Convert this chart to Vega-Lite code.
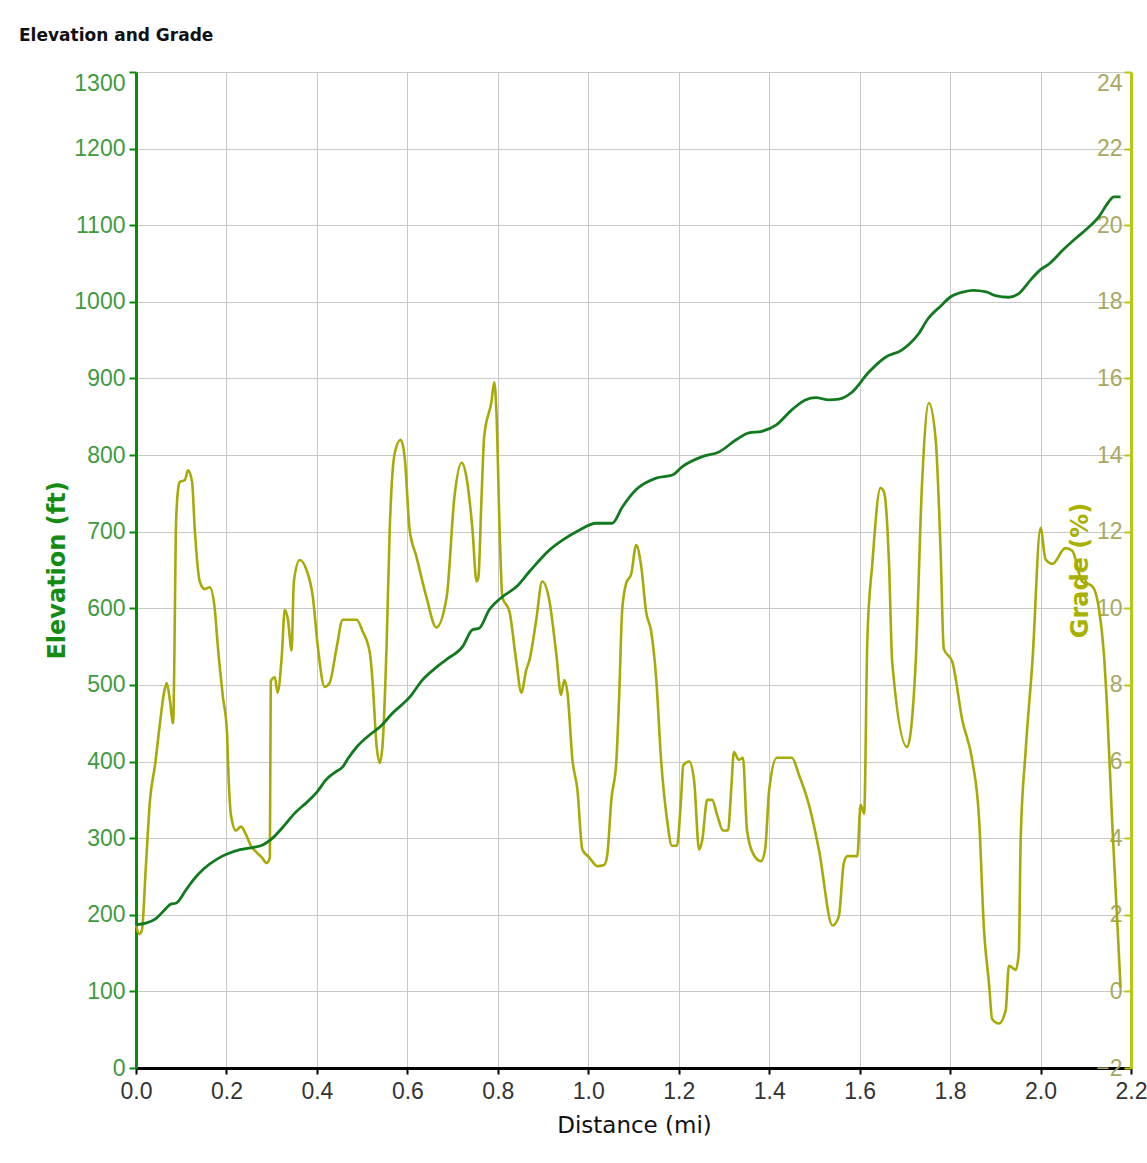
{
  "$schema": "https://vega.github.io/schema/vega-lite/v6.json",
  "autosize": {"type": "none"},
  "padding": {"left": 136, "top": 72, "right": 16, "bottom": 95},
  "width": 995,
  "height": 996,
  "background": "white",
  "title": {"text": "Elevation and Grade", "anchor": "start", "frame": "group", "dx": -117, "offset": 26, "font": "DejaVu Sans", "fontSize": 17, "fontWeight": "bold", "color": "#111111"},
  "config": {"view": {"stroke": null}},
  "datasets": {
    "elev": [
      {"d": 0.0, "elev": 187}, {"d": 0.022, "elev": 189}, {"d": 0.044, "elev": 195}, {"d": 0.066, "elev": 208},
      {"d": 0.077, "elev": 214}, {"d": 0.088, "elev": 215}, {"d": 0.11, "elev": 232}, {"d": 0.126, "elev": 245},
      {"d": 0.15, "elev": 260}, {"d": 0.18, "elev": 273}, {"d": 0.2, "elev": 279}, {"d": 0.23, "elev": 285},
      {"d": 0.26, "elev": 288}, {"d": 0.28, "elev": 291}, {"d": 0.3, "elev": 299}, {"d": 0.33, "elev": 318},
      {"d": 0.35, "elev": 332}, {"d": 0.38, "elev": 348}, {"d": 0.4, "elev": 360}, {"d": 0.42, "elev": 376},
      {"d": 0.44, "elev": 386}, {"d": 0.457, "elev": 393}, {"d": 0.47, "elev": 405}, {"d": 0.488, "elev": 419},
      {"d": 0.517, "elev": 435}, {"d": 0.539, "elev": 445}, {"d": 0.567, "elev": 463}, {"d": 0.605, "elev": 484},
      {"d": 0.634, "elev": 507}, {"d": 0.66, "elev": 521}, {"d": 0.686, "elev": 533}, {"d": 0.722, "elev": 550},
      {"d": 0.744, "elev": 572}, {"d": 0.759, "elev": 574}, {"d": 0.781, "elev": 598}, {"d": 0.81, "elev": 615},
      {"d": 0.841, "elev": 628}, {"d": 0.87, "elev": 648}, {"d": 0.914, "elev": 676}, {"d": 0.943, "elev": 689},
      {"d": 0.98, "elev": 702}, {"d": 1.017, "elev": 711}, {"d": 1.053, "elev": 711}, {"d": 1.075, "elev": 732},
      {"d": 1.106, "elev": 755}, {"d": 1.15, "elev": 770}, {"d": 1.186, "elev": 774}, {"d": 1.208, "elev": 785},
      {"d": 1.252, "elev": 798}, {"d": 1.289, "elev": 804}, {"d": 1.327, "elev": 820}, {"d": 1.355, "elev": 829},
      {"d": 1.384, "elev": 831}, {"d": 1.415, "elev": 839}, {"d": 1.45, "elev": 859}, {"d": 1.48, "elev": 872},
      {"d": 1.503, "elev": 875}, {"d": 1.532, "elev": 872}, {"d": 1.554, "elev": 873}, {"d": 1.583, "elev": 882},
      {"d": 1.62, "elev": 908}, {"d": 1.658, "elev": 928}, {"d": 1.693, "elev": 937}, {"d": 1.71, "elev": 945},
      {"d": 1.73, "elev": 958}, {"d": 1.75, "elev": 977}, {"d": 1.78, "elev": 995}, {"d": 1.8, "elev": 1006},
      {"d": 1.83, "elev": 1013}, {"d": 1.85, "elev": 1015}, {"d": 1.88, "elev": 1013}, {"d": 1.9, "elev": 1008},
      {"d": 1.93, "elev": 1006}, {"d": 1.95, "elev": 1010}, {"d": 1.98, "elev": 1030}, {"d": 2.0, "elev": 1042},
      {"d": 2.02, "elev": 1050}, {"d": 2.05, "elev": 1068}, {"d": 2.08, "elev": 1084}, {"d": 2.1, "elev": 1094},
      {"d": 2.13, "elev": 1112}, {"d": 2.15, "elev": 1130}, {"d": 2.162, "elev": 1137}, {"d": 2.177, "elev": 1137}
    ],
    "grade": [
      {"d": 0.0, "grade": 1.73}, {"d": 0.007, "grade": 1.5}, {"d": 0.013, "grade": 1.6}, {"d": 0.022, "grade": 3.3},
      {"d": 0.031, "grade": 5.0}, {"d": 0.042, "grade": 5.9}, {"d": 0.053, "grade": 7.0}, {"d": 0.062, "grade": 7.8},
      {"d": 0.068, "grade": 8.05}, {"d": 0.075, "grade": 7.6}, {"d": 0.082, "grade": 7.0}, {"d": 0.086, "grade": 9.9},
      {"d": 0.088, "grade": 12.0}, {"d": 0.093, "grade": 13.1}, {"d": 0.097, "grade": 13.3}, {"d": 0.108, "grade": 13.35},
      {"d": 0.115, "grade": 13.6}, {"d": 0.124, "grade": 13.3}, {"d": 0.13, "grade": 12.05}, {"d": 0.141, "grade": 10.7},
      {"d": 0.152, "grade": 10.5}, {"d": 0.163, "grade": 10.55}, {"d": 0.174, "grade": 10.0}, {"d": 0.181, "grade": 9.0},
      {"d": 0.192, "grade": 7.7}, {"d": 0.201, "grade": 6.8}, {"d": 0.205, "grade": 5.5}, {"d": 0.21, "grade": 4.6},
      {"d": 0.221, "grade": 4.2}, {"d": 0.232, "grade": 4.3}, {"d": 0.243, "grade": 4.1}, {"d": 0.254, "grade": 3.8},
      {"d": 0.265, "grade": 3.65}, {"d": 0.278, "grade": 3.5}, {"d": 0.289, "grade": 3.35}, {"d": 0.296, "grade": 3.5},
      {"d": 0.298, "grade": 8.1}, {"d": 0.307, "grade": 8.2}, {"d": 0.313, "grade": 7.8}, {"d": 0.322, "grade": 8.7},
      {"d": 0.329, "grade": 9.96}, {"d": 0.336, "grade": 9.7}, {"d": 0.344, "grade": 8.9}, {"d": 0.349, "grade": 10.7},
      {"d": 0.362, "grade": 11.26}, {"d": 0.377, "grade": 11.0}, {"d": 0.391, "grade": 10.3}, {"d": 0.402, "grade": 9.0},
      {"d": 0.417, "grade": 7.95}, {"d": 0.428, "grade": 8.05}, {"d": 0.444, "grade": 9.0}, {"d": 0.457, "grade": 9.7},
      {"d": 0.488, "grade": 9.7}, {"d": 0.501, "grade": 9.4}, {"d": 0.517, "grade": 8.84}, {"d": 0.523, "grade": 8.1},
      {"d": 0.532, "grade": 6.4}, {"d": 0.539, "grade": 5.96}, {"d": 0.545, "grade": 6.4}, {"d": 0.554, "grade": 9.0},
      {"d": 0.561, "grade": 12.05}, {"d": 0.572, "grade": 14.05}, {"d": 0.585, "grade": 14.4}, {"d": 0.594, "grade": 13.95},
      {"d": 0.605, "grade": 12.05}, {"d": 0.62, "grade": 11.35}, {"d": 0.642, "grade": 10.3}, {"d": 0.664, "grade": 9.5},
      {"d": 0.687, "grade": 10.3}, {"d": 0.704, "grade": 12.9}, {"d": 0.72, "grade": 13.8}, {"d": 0.731, "grade": 13.4},
      {"d": 0.744, "grade": 12.05}, {"d": 0.753, "grade": 10.7}, {"d": 0.757, "grade": 10.8}, {"d": 0.764, "grade": 12.9},
      {"d": 0.77, "grade": 14.5}, {"d": 0.786, "grade": 15.4}, {"d": 0.792, "grade": 15.9}, {"d": 0.797, "grade": 15.1},
      {"d": 0.804, "grade": 12.05}, {"d": 0.81, "grade": 10.3}, {"d": 0.826, "grade": 9.9}, {"d": 0.841, "grade": 8.6},
      {"d": 0.852, "grade": 7.8}, {"d": 0.863, "grade": 8.4}, {"d": 0.87, "grade": 8.65}, {"d": 0.885, "grade": 9.7},
      {"d": 0.898, "grade": 10.7}, {"d": 0.914, "grade": 10.2}, {"d": 0.929, "grade": 8.84}, {"d": 0.94, "grade": 7.74},
      {"d": 0.947, "grade": 8.13}, {"d": 0.954, "grade": 7.8}, {"d": 0.965, "grade": 6.04}, {"d": 0.976, "grade": 5.26},
      {"d": 0.987, "grade": 3.7}, {"d": 1.002, "grade": 3.5}, {"d": 1.02, "grade": 3.27}, {"d": 1.035, "grade": 3.3},
      {"d": 1.042, "grade": 3.56}, {"d": 1.051, "grade": 5.0}, {"d": 1.062, "grade": 6.0}, {"d": 1.068, "grade": 7.6},
      {"d": 1.075, "grade": 9.96}, {"d": 1.084, "grade": 10.66}, {"d": 1.095, "grade": 10.9}, {"d": 1.106, "grade": 11.65},
      {"d": 1.117, "grade": 11.1}, {"d": 1.128, "grade": 9.9}, {"d": 1.139, "grade": 9.4}, {"d": 1.15, "grade": 8.2},
      {"d": 1.161, "grade": 6.04}, {"d": 1.174, "grade": 4.5}, {"d": 1.185, "grade": 3.8}, {"d": 1.196, "grade": 3.8},
      {"d": 1.205, "grade": 5.0}, {"d": 1.21, "grade": 5.9}, {"d": 1.223, "grade": 6.0}, {"d": 1.234, "grade": 5.5},
      {"d": 1.245, "grade": 3.7}, {"d": 1.252, "grade": 3.95}, {"d": 1.263, "grade": 5.0}, {"d": 1.274, "grade": 5.0},
      {"d": 1.285, "grade": 4.6}, {"d": 1.298, "grade": 4.2}, {"d": 1.309, "grade": 4.2}, {"d": 1.316, "grade": 5.26},
      {"d": 1.322, "grade": 6.25}, {"d": 1.333, "grade": 6.04}, {"d": 1.342, "grade": 6.1}, {"d": 1.351, "grade": 4.2},
      {"d": 1.366, "grade": 3.56}, {"d": 1.382, "grade": 3.4}, {"d": 1.391, "grade": 3.7}, {"d": 1.4, "grade": 5.26},
      {"d": 1.417, "grade": 6.1}, {"d": 1.45, "grade": 6.1}, {"d": 1.466, "grade": 5.65}, {"d": 1.488, "grade": 4.87},
      {"d": 1.51, "grade": 3.7}, {"d": 1.54, "grade": 1.72}, {"d": 1.554, "grade": 1.96}, {"d": 1.565, "grade": 3.35},
      {"d": 1.573, "grade": 3.53}, {"d": 1.595, "grade": 3.53}, {"d": 1.602, "grade": 4.87}, {"d": 1.61, "grade": 4.64},
      {"d": 1.617, "grade": 9.18}, {"d": 1.628, "grade": 11.16}, {"d": 1.646, "grade": 13.14}, {"d": 1.654, "grade": 13.03},
      {"d": 1.665, "grade": 11.16}, {"d": 1.672, "grade": 8.6}, {"d": 1.705, "grade": 6.38}, {"d": 1.724, "grade": 8.6},
      {"d": 1.738, "grade": 13.26}, {"d": 1.753, "grade": 15.36}, {"d": 1.768, "grade": 14.43}, {"d": 1.779, "grade": 11.5},
      {"d": 1.786, "grade": 8.95}, {"d": 1.805, "grade": 8.6}, {"d": 1.827, "grade": 7.08}, {"d": 1.849, "grade": 6.03},
      {"d": 1.864, "grade": 4.52}, {"d": 1.875, "grade": 1.6}, {"d": 1.886, "grade": 0.21}, {"d": 1.893, "grade": -0.72},
      {"d": 1.908, "grade": -0.84}, {"d": 1.923, "grade": -0.49}, {"d": 1.93, "grade": 0.67}, {"d": 1.945, "grade": 0.56},
      {"d": 1.952, "grade": 1.02}, {"d": 1.956, "grade": 3.94}, {"d": 1.967, "grade": 6.27}, {"d": 1.982, "grade": 8.6},
      {"d": 2.0, "grade": 12.1}, {"d": 2.011, "grade": 11.28}, {"d": 2.026, "grade": 11.16}, {"d": 2.055, "grade": 11.57},
      {"d": 2.07, "grade": 11.5}, {"d": 2.092, "grade": 10.7}, {"d": 2.114, "grade": 10.58}, {"d": 2.129, "grade": 10.0},
      {"d": 2.14, "grade": 8.83}, {"d": 2.147, "grade": 7.43}, {"d": 2.158, "grade": 4.52}, {"d": 2.169, "grade": 1.96},
      {"d": 2.177, "grade": 0.09}
    ]
  },
  "encoding": {
    "x": {
      "field": "d", "type": "quantitative",
      "scale": {"domain": [0, 2.2], "nice": false, "zero": false},
      "axis": {
        "title": "Distance (mi)", "values": [0, 0.2, 0.4, 0.6, 0.8, 1.0, 1.2, 1.4, 1.6, 1.8, 2.0, 2.2], "format": ".1f",
        "grid": true, "gridColor": "#c8c8c8", "gridWidth": 1,
        "domainColor": "#000000", "domainWidth": 3, "tickColor": "#000000", "tickSize": 6, "tickWidth": 2,
        "labelFont": "Liberation Sans", "labelFontSize": 23, "labelColor": "#333333", "labelPadding": 6, "labelFlush": false,
        "titleFont": "DejaVu Sans", "titleFontSize": 23, "titleFontWeight": "normal", "titleColor": "#111111",
        "titleX": 498, "titleY": 57, "titleBaseline": "middle", "titleAlign": "center"
      }
    }
  },
  "layer": [
    {
      "data": {"name": "grade"},
      "mark": {"type": "line", "color": "#a8aa08", "strokeWidth": 2.6, "interpolate": "monotone"},
      "encoding": {
        "y": {
          "field": "grade", "type": "quantitative",
          "scale": {"domain": [-2, 24], "nice": false, "zero": false},
          "axis": {
            "orient": "right", "title": "Grade (%)", "values": [-2, 0, 2, 4, 6, 8, 10, 12, 14, 16, 18, 20, 22, 24], "format": "d",
            "grid": false, "domainColor": "#b8c810", "domainWidth": 3, "tickColor": "#b8c810", "tickSize": -7, "tickWidth": 2,
            "labelFont": "Liberation Sans", "labelFontSize": 23, "labelColor": "#a8a860", "labelPadding": -2,
            "labelAlign": "right", "labelFlush": false,
            "labelBaseline": {"condition": {"test": "datum.value == 24", "value": "top"}, "value": "middle"},
            "titleFont": "DejaVu Sans", "titleFontSize": 24, "titleFontWeight": "bold", "titleColor": "#a8b000",
            "titleAngle": 270, "titleX": -51, "titleY": 498, "titleBaseline": "middle", "titleAlign": "center"
          }
        }
      }
    },
    {
      "data": {"name": "elev"},
      "mark": {"type": "line", "color": "#127a1e", "strokeWidth": 2.8, "interpolate": "monotone"},
      "encoding": {
        "y": {
          "field": "elev", "type": "quantitative",
          "scale": {"domain": [0, 1300], "nice": false, "zero": true},
          "axis": {
            "orient": "left", "title": "Elevation (ft)", "values": [0, 100, 200, 300, 400, 500, 600, 700, 800, 900, 1000, 1100, 1200, 1300], "format": "d",
            "grid": true, "gridColor": "#c8c8c8", "gridWidth": 1,
            "domainColor": "#0a8a0a", "domainWidth": 3, "tickColor": "#0a8a0a", "tickSize": 7, "tickWidth": 2,
            "labelFont": "Liberation Sans", "labelFontSize": 23, "labelColor": "#3f9a3f", "labelPadding": 4, "labelFlush": false,
            "labelBaseline": {"condition": {"test": "datum.value == 1300", "value": "top"}, "value": "middle"},
            "titleFont": "DejaVu Sans", "titleFontSize": 24, "titleFontWeight": "bold", "titleColor": "#148c14",
            "titleAngle": 270, "titleX": -79, "titleY": 498, "titleBaseline": "middle", "titleAlign": "center"
          }
        }
      }
    }
  ],
  "resolve": {"scale": {"y": "independent"}, "axis": {"y": "independent"}}
}
